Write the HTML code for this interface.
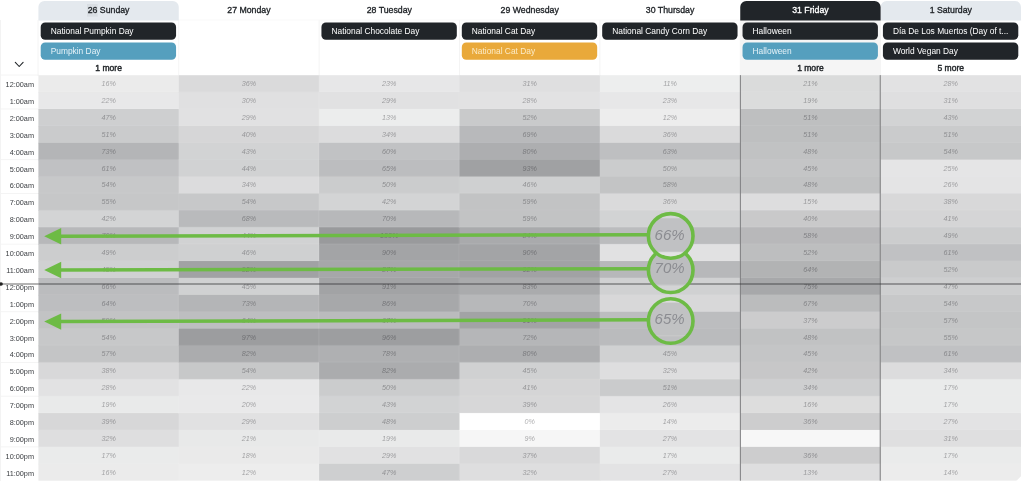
<!DOCTYPE html>
<html><head><meta charset="utf-8"><title>Calendar</title>
<style>
html,body{margin:0;padding:0;background:#fff;}
body{width:1024px;height:484px;overflow:hidden;font-family:"Liberation Sans",sans-serif;}
svg{display:block;position:absolute;left:0;top:0;will-change:transform;}
text{white-space:pre;}
</style></head><body>
<svg width="1024" height="484" viewBox="0 0 1024 484">
<defs><clipPath id="cp1"><circle cx="670.70" cy="270.20" r="22.30"/></clipPath><clipPath id="cp0"><circle cx="670.70" cy="235.90" r="22.30"/></clipPath><clipPath id="cp2"><circle cx="670.70" cy="321.00" r="22.30"/></clipPath></defs>
<g fill="#f3f3f3">
<rect x="0" y="20" width="1" height="461"/>
<rect x="37.6" y="20" width="0.9" height="56"/>
<rect x="0" y="74.6" width="38.4" height="0.9"/>
<rect x="0" y="108.54" width="38.4" height="0.9"/>
<rect x="0" y="159.23" width="38.4" height="0.9"/>
<rect x="0" y="193.02" width="38.4" height="0.9"/>
<rect x="0" y="243.70" width="38.4" height="0.9"/>
<rect x="0" y="311.28" width="38.4" height="0.9"/>
<rect x="0" y="361.96" width="38.4" height="0.9"/>
<rect x="0" y="395.75" width="38.4" height="0.9"/>
<rect x="0" y="446.44" width="38.4" height="0.9"/>
</g>
<g fill="#f3f3f3">
<rect x="178.32" y="20" width="0.9" height="55.2"/>
<rect x="318.69" y="20" width="0.9" height="55.2"/>
<rect x="459.06" y="20" width="0.9" height="55.2"/>
<rect x="599.43" y="20" width="0.9" height="55.2"/>
<rect x="739.80" y="20" width="0.9" height="55.2"/>
<rect x="880.17" y="20" width="0.9" height="55.2"/>
<rect x="38.4" y="19.6" width="983" height="0.8" fill="#f8f8f8"/>
</g>
<rect x="740.25" y="20" width="140.37" height="55.4" fill="#f5f5f5"/>
<path d="M38.40 20.50 L38.40 6.90 A6 6 0 0 1 44.40 0.90 L172.77 0.90 A6 6 0 0 1 178.77 6.90 L178.77 20.50 Z" fill="#e4e9ee"/>
<path d="M880.62 20.50 L880.62 6.90 A6 6 0 0 1 886.62 0.90 L1014.99 0.90 A6 6 0 0 1 1020.99 6.90 L1020.99 20.50 Z" fill="#e4e9ee"/>
<path d="M740.25 20.50 L740.25 6.90 A6 6 0 0 1 746.25 0.90 L874.62 0.90 A6 6 0 0 1 880.62 6.90 L880.62 20.50 Z" fill="#212529"/>
<rect x="87" y="4" width="10.7" height="12.6" fill="#d9dee3"/>
<g font-family="Liberation Sans, sans-serif" font-size="8.75" text-anchor="middle" fill="#212529" stroke="#212529" stroke-width="0.32" stroke-linejoin="round">
<text x="108.59" y="13.1">26 Sunday</text>
<text x="248.96" y="13.1">27 Monday</text>
<text x="389.32" y="13.1">28 Tuesday</text>
<text x="529.70" y="13.1">29 Wednesday</text>
<text x="670.06" y="13.1">30 Thursday</text>
<text x="810.44" y="13.1" fill="#fff" stroke="#fff">31 Friday</text>
<text x="950.80" y="13.1">1 Saturday</text>
</g>
<rect x="40.70" y="22.55" width="135.37" height="17.2" rx="4.5" fill="#212529"/>
<text x="50.70" y="34.05" font-family="Liberation Sans, sans-serif" font-size="8.4" fill="#fff">National Pumpkin Day</text>
<rect x="40.70" y="42.55" width="135.37" height="17.2" rx="4.5" fill="#559fbe"/>
<text x="50.70" y="54.05" font-family="Liberation Sans, sans-serif" font-size="8.4" fill="#e6f2f8">Pumpkin Day</text>
<rect x="321.44" y="22.55" width="135.37" height="17.2" rx="4.5" fill="#212529"/>
<text x="331.44" y="34.05" font-family="Liberation Sans, sans-serif" font-size="8.4" fill="#fff">National Chocolate Day</text>
<rect x="461.81" y="22.55" width="135.37" height="17.2" rx="4.5" fill="#212529"/>
<text x="471.81" y="34.05" font-family="Liberation Sans, sans-serif" font-size="8.4" fill="#fff">National Cat Day</text>
<rect x="461.81" y="42.55" width="135.37" height="17.2" rx="4.5" fill="#e9a93a"/>
<text x="471.81" y="54.05" font-family="Liberation Sans, sans-serif" font-size="8.4" fill="#fcebc6">National Cat Day</text>
<rect x="602.18" y="22.55" width="135.37" height="17.2" rx="4.5" fill="#212529"/>
<text x="612.18" y="34.05" font-family="Liberation Sans, sans-serif" font-size="8.4" fill="#fff">National Candy Corn Day</text>
<rect x="742.55" y="22.55" width="135.37" height="17.2" rx="4.5" fill="#212529"/>
<text x="752.55" y="34.05" font-family="Liberation Sans, sans-serif" font-size="8.4" fill="#fff">Halloween</text>
<rect x="742.55" y="42.55" width="135.37" height="17.2" rx="4.5" fill="#559fbe"/>
<text x="752.55" y="54.05" font-family="Liberation Sans, sans-serif" font-size="8.4" fill="#e6f2f8">Halloween</text>
<rect x="882.92" y="22.55" width="135.37" height="17.2" rx="4.5" fill="#212529"/>
<text x="892.92" y="34.05" font-family="Liberation Sans, sans-serif" font-size="8.4" fill="#fff">D&#237;a De Los Muertos (Day of t...</text>
<rect x="882.92" y="42.55" width="135.37" height="17.2" rx="4.5" fill="#212529"/>
<text x="892.92" y="54.05" font-family="Liberation Sans, sans-serif" font-size="8.4" fill="#fff">World Vegan Day</text>
<text x="108.59" y="70.9" font-family="Liberation Sans, sans-serif" font-size="8.55" text-anchor="middle" fill="#212529" stroke="#212529" stroke-width="0.4" stroke-linejoin="round">1 more</text>
<text x="810.44" y="70.9" font-family="Liberation Sans, sans-serif" font-size="8.55" text-anchor="middle" fill="#212529" stroke="#212529" stroke-width="0.4" stroke-linejoin="round">1 more</text>
<text x="950.80" y="70.9" font-family="Liberation Sans, sans-serif" font-size="8.55" text-anchor="middle" fill="#212529" stroke="#212529" stroke-width="0.4" stroke-linejoin="round">5 more</text>
<path d="M15.3 62.3 L19.2 66.5 L23.1 62.3" fill="none" stroke="#212529" stroke-width="1.1" stroke-linecap="round" stroke-linejoin="round"/>
<rect x="38.40" y="75.20" width="140.97" height="17.50" fill="#ebebeb"/>
<rect x="38.40" y="92.09" width="140.97" height="17.50" fill="#e8e8e9"/>
<rect x="38.40" y="108.99" width="140.97" height="17.50" fill="#cecfd0"/>
<rect x="38.40" y="125.89" width="140.97" height="17.50" fill="#cacbcc"/>
<rect x="38.40" y="142.78" width="140.97" height="17.50" fill="#b4b5b7"/>
<rect x="38.40" y="159.68" width="140.97" height="17.50" fill="#c0c1c3"/>
<rect x="38.40" y="176.57" width="140.97" height="17.50" fill="#c7c8c9"/>
<rect x="38.40" y="193.47" width="140.97" height="17.50" fill="#c6c7c8"/>
<rect x="38.40" y="210.36" width="140.97" height="17.50" fill="#d3d4d5"/>
<rect x="38.40" y="227.25" width="140.97" height="17.50" fill="#b7b8ba"/>
<rect x="38.40" y="244.15" width="140.97" height="17.50" fill="#cccdce"/>
<rect x="38.40" y="261.05" width="140.97" height="17.50" fill="#d0d1d2"/>
<rect x="38.40" y="277.94" width="140.97" height="17.50" fill="#bbbcbe"/>
<rect x="38.40" y="294.83" width="140.97" height="17.50" fill="#bdbec0"/>
<rect x="38.40" y="311.73" width="140.97" height="17.50" fill="#c2c3c4"/>
<rect x="38.40" y="328.62" width="140.97" height="17.50" fill="#c7c8c9"/>
<rect x="38.40" y="345.52" width="140.97" height="17.50" fill="#c4c5c6"/>
<rect x="38.40" y="362.41" width="140.97" height="17.50" fill="#d8d8d9"/>
<rect x="38.40" y="379.31" width="140.97" height="17.50" fill="#e2e2e3"/>
<rect x="38.40" y="396.20" width="140.97" height="17.50" fill="#e9eaea"/>
<rect x="38.40" y="413.10" width="140.97" height="17.50" fill="#d7d7d8"/>
<rect x="38.40" y="430.00" width="140.97" height="17.50" fill="#dededf"/>
<rect x="38.40" y="446.89" width="140.97" height="17.50" fill="#eaebeb"/>
<rect x="38.40" y="463.78" width="140.97" height="16.89" fill="#ebebeb"/>
<rect x="178.77" y="75.20" width="140.97" height="17.50" fill="#dadadb"/>
<rect x="178.77" y="92.09" width="140.97" height="17.50" fill="#e0e0e1"/>
<rect x="178.77" y="108.99" width="140.97" height="17.50" fill="#e1e1e2"/>
<rect x="178.77" y="125.89" width="140.97" height="17.50" fill="#d6d6d7"/>
<rect x="178.77" y="142.78" width="140.97" height="17.50" fill="#d2d3d4"/>
<rect x="178.77" y="159.68" width="140.97" height="17.50" fill="#d1d2d3"/>
<rect x="178.77" y="176.57" width="140.97" height="17.50" fill="#dcdcdd"/>
<rect x="178.77" y="193.47" width="140.97" height="17.50" fill="#c7c8c9"/>
<rect x="178.77" y="210.36" width="140.97" height="17.50" fill="#b9babc"/>
<rect x="178.77" y="227.25" width="140.97" height="17.50" fill="#d1d2d3"/>
<rect x="178.77" y="244.15" width="140.97" height="17.50" fill="#cfd0d1"/>
<rect x="178.77" y="261.05" width="140.97" height="17.50" fill="#a1a2a4"/>
<rect x="178.77" y="277.94" width="140.97" height="17.50" fill="#d0d1d2"/>
<rect x="178.77" y="294.83" width="140.97" height="17.50" fill="#b4b5b7"/>
<rect x="178.77" y="311.73" width="140.97" height="17.50" fill="#bdbec0"/>
<rect x="178.77" y="328.62" width="140.97" height="17.50" fill="#9c9d9f"/>
<rect x="178.77" y="345.52" width="140.97" height="17.50" fill="#abacae"/>
<rect x="178.77" y="362.41" width="140.97" height="17.50" fill="#c7c8c9"/>
<rect x="178.77" y="379.31" width="140.97" height="17.50" fill="#e8e8e9"/>
<rect x="178.77" y="396.20" width="140.97" height="17.50" fill="#e9e9ea"/>
<rect x="178.77" y="413.10" width="140.97" height="17.50" fill="#e1e1e2"/>
<rect x="178.77" y="430.00" width="140.97" height="17.50" fill="#e8e9e9"/>
<rect x="178.77" y="446.89" width="140.97" height="17.50" fill="#eaeaea"/>
<rect x="178.77" y="463.78" width="140.97" height="16.89" fill="#ededed"/>
<rect x="319.14" y="75.20" width="140.97" height="17.50" fill="#e7e7e8"/>
<rect x="319.14" y="92.09" width="140.97" height="17.50" fill="#e1e1e2"/>
<rect x="319.14" y="108.99" width="140.97" height="17.50" fill="#eceded"/>
<rect x="319.14" y="125.89" width="140.97" height="17.50" fill="#dcdcdd"/>
<rect x="319.14" y="142.78" width="140.97" height="17.50" fill="#c1c2c4"/>
<rect x="319.14" y="159.68" width="140.97" height="17.50" fill="#bcbdbf"/>
<rect x="319.14" y="176.57" width="140.97" height="17.50" fill="#cbcccd"/>
<rect x="319.14" y="193.47" width="140.97" height="17.50" fill="#d3d4d5"/>
<rect x="319.14" y="210.36" width="140.97" height="17.50" fill="#b7b8ba"/>
<rect x="319.14" y="227.25" width="140.97" height="17.50" fill="#999a9c"/>
<rect x="319.14" y="244.15" width="140.97" height="17.50" fill="#a3a4a6"/>
<rect x="319.14" y="261.05" width="140.97" height="17.50" fill="#a6a7a9"/>
<rect x="319.14" y="277.94" width="140.97" height="17.50" fill="#a2a3a5"/>
<rect x="319.14" y="294.83" width="140.97" height="17.50" fill="#a7a8aa"/>
<rect x="319.14" y="311.73" width="140.97" height="17.50" fill="#babbbd"/>
<rect x="319.14" y="328.62" width="140.97" height="17.50" fill="#9d9ea0"/>
<rect x="319.14" y="345.52" width="140.97" height="17.50" fill="#afb0b2"/>
<rect x="319.14" y="362.41" width="140.97" height="17.50" fill="#abacae"/>
<rect x="319.14" y="379.31" width="140.97" height="17.50" fill="#cbcccd"/>
<rect x="319.14" y="396.20" width="140.97" height="17.50" fill="#d2d3d4"/>
<rect x="319.14" y="413.10" width="140.97" height="17.50" fill="#cdcecf"/>
<rect x="319.14" y="430.00" width="140.97" height="17.50" fill="#e9eaea"/>
<rect x="319.14" y="446.89" width="140.97" height="17.50" fill="#e1e1e2"/>
<rect x="319.14" y="463.78" width="140.97" height="16.89" fill="#cecfd0"/>
<rect x="459.51" y="75.20" width="140.97" height="17.50" fill="#dfdfe0"/>
<rect x="459.51" y="92.09" width="140.97" height="17.50" fill="#e2e2e3"/>
<rect x="459.51" y="108.99" width="140.97" height="17.50" fill="#c9cacb"/>
<rect x="459.51" y="125.89" width="140.97" height="17.50" fill="#b8b9bb"/>
<rect x="459.51" y="142.78" width="140.97" height="17.50" fill="#adaeb0"/>
<rect x="459.51" y="159.68" width="140.97" height="17.50" fill="#a0a1a3"/>
<rect x="459.51" y="176.57" width="140.97" height="17.50" fill="#cfd0d1"/>
<rect x="459.51" y="193.47" width="140.97" height="17.50" fill="#c2c3c4"/>
<rect x="459.51" y="210.36" width="140.97" height="17.50" fill="#c2c3c4"/>
<rect x="459.51" y="227.25" width="140.97" height="17.50" fill="#a9aaac"/>
<rect x="459.51" y="244.15" width="140.97" height="17.50" fill="#a3a4a6"/>
<rect x="459.51" y="261.05" width="140.97" height="17.50" fill="#a1a2a4"/>
<rect x="459.51" y="277.94" width="140.97" height="17.50" fill="#aaabad"/>
<rect x="459.51" y="294.83" width="140.97" height="17.50" fill="#b7b8ba"/>
<rect x="459.51" y="311.73" width="140.97" height="17.50" fill="#a2a3a5"/>
<rect x="459.51" y="328.62" width="140.97" height="17.50" fill="#b5b6b8"/>
<rect x="459.51" y="345.52" width="140.97" height="17.50" fill="#adaeb0"/>
<rect x="459.51" y="362.41" width="140.97" height="17.50" fill="#d0d1d2"/>
<rect x="459.51" y="379.31" width="140.97" height="17.50" fill="#d5d5d6"/>
<rect x="459.51" y="396.20" width="140.97" height="17.50" fill="#d7d7d8"/>
<rect x="459.51" y="413.10" width="140.97" height="17.50" fill="#ffffff"/>
<rect x="459.51" y="430.00" width="140.97" height="17.50" fill="#f6f6f6"/>
<rect x="459.51" y="446.89" width="140.97" height="17.50" fill="#d9d9da"/>
<rect x="459.51" y="463.78" width="140.97" height="16.89" fill="#dededf"/>
<rect x="599.88" y="75.20" width="140.97" height="17.50" fill="#edeeee"/>
<rect x="599.88" y="92.09" width="140.97" height="17.50" fill="#e7e7e8"/>
<rect x="599.88" y="108.99" width="140.97" height="17.50" fill="#ededed"/>
<rect x="599.88" y="125.89" width="140.97" height="17.50" fill="#dadadb"/>
<rect x="599.88" y="142.78" width="140.97" height="17.50" fill="#bebfc1"/>
<rect x="599.88" y="159.68" width="140.97" height="17.50" fill="#cbcccd"/>
<rect x="599.88" y="176.57" width="140.97" height="17.50" fill="#c3c4c5"/>
<rect x="599.88" y="193.47" width="140.97" height="17.50" fill="#dadadb"/>
<rect x="599.88" y="210.36" width="140.97" height="17.50" fill="#d2d3d4"/>
<rect x="599.88" y="227.25" width="140.97" height="17.50" fill="#bbbcbe"/>
<rect x="599.88" y="244.15" width="140.97" height="17.50" fill="#e1e1e2"/>
<rect x="599.88" y="261.05" width="140.97" height="17.50" fill="#b7b8ba"/>
<rect x="599.88" y="277.94" width="140.97" height="17.50" fill="#d0d1d2"/>
<rect x="599.88" y="294.83" width="140.97" height="17.50" fill="#d8d8d9"/>
<rect x="599.88" y="311.73" width="140.97" height="17.50" fill="#bcbdbf"/>
<rect x="599.88" y="328.62" width="140.97" height="17.50" fill="#babbbd"/>
<rect x="599.88" y="345.52" width="140.97" height="17.50" fill="#d0d1d2"/>
<rect x="599.88" y="362.41" width="140.97" height="17.50" fill="#dededf"/>
<rect x="599.88" y="379.31" width="140.97" height="17.50" fill="#cacbcc"/>
<rect x="599.88" y="396.20" width="140.97" height="17.50" fill="#e4e4e5"/>
<rect x="599.88" y="413.10" width="140.97" height="17.50" fill="#ececec"/>
<rect x="599.88" y="430.00" width="140.97" height="17.50" fill="#e3e3e4"/>
<rect x="599.88" y="446.89" width="140.97" height="17.50" fill="#eaebeb"/>
<rect x="599.88" y="463.78" width="140.97" height="16.89" fill="#e3e3e4"/>
<rect x="740.25" y="75.20" width="140.97" height="17.50" fill="#dadbdb"/>
<rect x="740.25" y="92.09" width="140.97" height="17.50" fill="#dbdcdc"/>
<rect x="740.25" y="108.99" width="140.97" height="17.50" fill="#bebfc0"/>
<rect x="740.25" y="125.89" width="140.97" height="17.50" fill="#bebfc0"/>
<rect x="740.25" y="142.78" width="140.97" height="17.50" fill="#c1c2c3"/>
<rect x="740.25" y="159.68" width="140.97" height="17.50" fill="#c4c5c6"/>
<rect x="740.25" y="176.57" width="140.97" height="17.50" fill="#c1c2c3"/>
<rect x="740.25" y="193.47" width="140.97" height="17.50" fill="#ddddde"/>
<rect x="740.25" y="210.36" width="140.97" height="17.50" fill="#c9c9ca"/>
<rect x="740.25" y="227.25" width="140.97" height="17.50" fill="#b8b8ba"/>
<rect x="740.25" y="244.15" width="140.97" height="17.50" fill="#bdbebf"/>
<rect x="740.25" y="261.05" width="140.97" height="17.50" fill="#b2b3b4"/>
<rect x="740.25" y="277.94" width="140.97" height="17.50" fill="#a7a8aa"/>
<rect x="740.25" y="294.83" width="140.97" height="17.50" fill="#bbbcbd"/>
<rect x="740.25" y="311.73" width="140.97" height="17.50" fill="#cccccd"/>
<rect x="740.25" y="328.62" width="140.97" height="17.50" fill="#c1c2c3"/>
<rect x="740.25" y="345.52" width="140.97" height="17.50" fill="#c4c5c6"/>
<rect x="740.25" y="362.41" width="140.97" height="17.50" fill="#c7c7c8"/>
<rect x="740.25" y="379.31" width="140.97" height="17.50" fill="#cecfd0"/>
<rect x="740.25" y="396.20" width="140.97" height="17.50" fill="#dddddd"/>
<rect x="740.25" y="413.10" width="140.97" height="17.50" fill="#cdcdce"/>
<rect x="740.25" y="430.00" width="140.97" height="17.50" fill="#f7f7f7"/>
<rect x="740.25" y="446.89" width="140.97" height="17.50" fill="#cdcdce"/>
<rect x="740.25" y="463.78" width="140.97" height="16.89" fill="#dededf"/>
<rect x="880.62" y="75.20" width="140.37" height="17.50" fill="#e2e2e3"/>
<rect x="880.62" y="92.09" width="140.37" height="17.50" fill="#dfdfe0"/>
<rect x="880.62" y="108.99" width="140.37" height="17.50" fill="#d2d3d4"/>
<rect x="880.62" y="125.89" width="140.37" height="17.50" fill="#cacbcc"/>
<rect x="880.62" y="142.78" width="140.37" height="17.50" fill="#c7c8c9"/>
<rect x="880.62" y="159.68" width="140.37" height="17.50" fill="#e5e5e6"/>
<rect x="880.62" y="176.57" width="140.37" height="17.50" fill="#e4e4e5"/>
<rect x="880.62" y="193.47" width="140.37" height="17.50" fill="#d8d8d9"/>
<rect x="880.62" y="210.36" width="140.37" height="17.50" fill="#d5d5d6"/>
<rect x="880.62" y="227.25" width="140.37" height="17.50" fill="#cccdce"/>
<rect x="880.62" y="244.15" width="140.37" height="17.50" fill="#c0c1c3"/>
<rect x="880.62" y="261.05" width="140.37" height="17.50" fill="#c9cacb"/>
<rect x="880.62" y="277.94" width="140.37" height="17.50" fill="#cecfd0"/>
<rect x="880.62" y="294.83" width="140.37" height="17.50" fill="#c7c8c9"/>
<rect x="880.62" y="311.73" width="140.37" height="17.50" fill="#c4c5c6"/>
<rect x="880.62" y="328.62" width="140.37" height="17.50" fill="#c6c7c8"/>
<rect x="880.62" y="345.52" width="140.37" height="17.50" fill="#c0c1c3"/>
<rect x="880.62" y="362.41" width="140.37" height="17.50" fill="#dcdcdd"/>
<rect x="880.62" y="379.31" width="140.37" height="17.50" fill="#eaebeb"/>
<rect x="880.62" y="396.20" width="140.37" height="17.50" fill="#eaebeb"/>
<rect x="880.62" y="413.10" width="140.37" height="17.50" fill="#e3e3e4"/>
<rect x="880.62" y="430.00" width="140.37" height="17.50" fill="#dfdfe0"/>
<rect x="880.62" y="446.89" width="140.37" height="17.50" fill="#eaebeb"/>
<rect x="880.62" y="463.78" width="140.37" height="16.89" fill="#ececec"/>
<g fill="rgba(255,255,255,0.08)">
<rect x="38.40" y="91.30" width="982.59" height="0.8"/>
<rect x="38.40" y="108.19" width="982.59" height="0.8"/>
<rect x="38.40" y="125.09" width="982.59" height="0.8"/>
<rect x="38.40" y="141.98" width="982.59" height="0.8"/>
<rect x="38.40" y="158.88" width="982.59" height="0.8"/>
<rect x="38.40" y="175.77" width="982.59" height="0.8"/>
<rect x="38.40" y="192.66" width="982.59" height="0.8"/>
<rect x="38.40" y="209.56" width="982.59" height="0.8"/>
<rect x="38.40" y="226.45" width="982.59" height="0.8"/>
<rect x="38.40" y="243.35" width="982.59" height="0.8"/>
<rect x="38.40" y="260.25" width="982.59" height="0.8"/>
<rect x="38.40" y="277.14" width="982.59" height="0.8"/>
<rect x="38.40" y="294.03" width="982.59" height="0.8"/>
<rect x="38.40" y="310.93" width="982.59" height="0.8"/>
<rect x="38.40" y="327.82" width="982.59" height="0.8"/>
<rect x="38.40" y="344.72" width="982.59" height="0.8"/>
<rect x="38.40" y="361.61" width="982.59" height="0.8"/>
<rect x="38.40" y="378.51" width="982.59" height="0.8"/>
<rect x="38.40" y="395.40" width="982.59" height="0.8"/>
<rect x="38.40" y="412.30" width="982.59" height="0.8"/>
<rect x="38.40" y="429.19" width="982.59" height="0.8"/>
<rect x="38.40" y="446.09" width="982.59" height="0.8"/>
<rect x="38.40" y="462.98" width="982.59" height="0.8"/>
<rect x="177.77" y="75.20" width="0.9" height="405.48"/>
<rect x="318.14" y="75.20" width="0.9" height="405.48"/>
<rect x="458.51" y="75.20" width="0.9" height="405.48"/>
<rect x="598.88" y="75.20" width="0.9" height="405.48"/>
<rect x="739.25" y="75.20" width="0.9" height="405.48"/>
<rect x="879.62" y="75.20" width="0.9" height="405.48"/>
</g>
<g font-family="Liberation Sans, sans-serif" font-size="7.2" font-style="italic" text-anchor="middle" fill="rgba(30,30,36,0.37)">
<text x="108.59" y="86.10">16%</text>
<text x="108.59" y="103.00">22%</text>
<text x="108.59" y="119.89">47%</text>
<text x="108.59" y="136.78">51%</text>
<text x="108.59" y="153.68">73%</text>
<text x="108.59" y="170.58">61%</text>
<text x="108.59" y="187.47">54%</text>
<text x="108.59" y="204.37">55%</text>
<text x="108.59" y="221.26">42%</text>
<text x="108.59" y="238.16">70%</text>
<text x="108.59" y="255.05">49%</text>
<text x="108.59" y="271.94">45%</text>
<text x="108.59" y="288.84">66%</text>
<text x="108.59" y="305.73">64%</text>
<text x="108.59" y="322.63">59%</text>
<text x="108.59" y="339.52">54%</text>
<text x="108.59" y="356.42">57%</text>
<text x="108.59" y="373.31">38%</text>
<text x="108.59" y="390.21">28%</text>
<text x="108.59" y="407.10">19%</text>
<text x="108.59" y="424.00">39%</text>
<text x="108.59" y="440.89">32%</text>
<text x="108.59" y="457.79">17%</text>
<text x="108.59" y="474.68">16%</text>
<text x="248.96" y="86.10">36%</text>
<text x="248.96" y="103.00">30%</text>
<text x="248.96" y="119.89">29%</text>
<text x="248.96" y="136.78">40%</text>
<text x="248.96" y="153.68">43%</text>
<text x="248.96" y="170.58">44%</text>
<text x="248.96" y="187.47">34%</text>
<text x="248.96" y="204.37">54%</text>
<text x="248.96" y="221.26">68%</text>
<text x="248.96" y="238.16">44%</text>
<text x="248.96" y="255.05">46%</text>
<text x="248.96" y="271.94">92%</text>
<text x="248.96" y="288.84">45%</text>
<text x="248.96" y="305.73">73%</text>
<text x="248.96" y="322.63">64%</text>
<text x="248.96" y="339.52">97%</text>
<text x="248.96" y="356.42">82%</text>
<text x="248.96" y="373.31">54%</text>
<text x="248.96" y="390.21">22%</text>
<text x="248.96" y="407.10">20%</text>
<text x="248.96" y="424.00">29%</text>
<text x="248.96" y="440.89">21%</text>
<text x="248.96" y="457.79">18%</text>
<text x="248.96" y="474.68">12%</text>
<text x="389.32" y="86.10">23%</text>
<text x="389.32" y="103.00">29%</text>
<text x="389.32" y="119.89">13%</text>
<text x="389.32" y="136.78">34%</text>
<text x="389.32" y="153.68">60%</text>
<text x="389.32" y="170.58">65%</text>
<text x="389.32" y="187.47">50%</text>
<text x="389.32" y="204.37">42%</text>
<text x="389.32" y="221.26">70%</text>
<text x="389.32" y="238.16">100%</text>
<text x="389.32" y="255.05">90%</text>
<text x="389.32" y="271.94">87%</text>
<text x="389.32" y="288.84">91%</text>
<text x="389.32" y="305.73">86%</text>
<text x="389.32" y="322.63">67%</text>
<text x="389.32" y="339.52">96%</text>
<text x="389.32" y="356.42">78%</text>
<text x="389.32" y="373.31">82%</text>
<text x="389.32" y="390.21">50%</text>
<text x="389.32" y="407.10">43%</text>
<text x="389.32" y="424.00">48%</text>
<text x="389.32" y="440.89">19%</text>
<text x="389.32" y="457.79">29%</text>
<text x="389.32" y="474.68">47%</text>
<text x="529.70" y="86.10">31%</text>
<text x="529.70" y="103.00">28%</text>
<text x="529.70" y="119.89">52%</text>
<text x="529.70" y="136.78">69%</text>
<text x="529.70" y="153.68">80%</text>
<text x="529.70" y="170.58">93%</text>
<text x="529.70" y="187.47">46%</text>
<text x="529.70" y="204.37">59%</text>
<text x="529.70" y="221.26">59%</text>
<text x="529.70" y="238.16">84%</text>
<text x="529.70" y="255.05">90%</text>
<text x="529.70" y="271.94">92%</text>
<text x="529.70" y="288.84">83%</text>
<text x="529.70" y="305.73">70%</text>
<text x="529.70" y="322.63">91%</text>
<text x="529.70" y="339.52">72%</text>
<text x="529.70" y="356.42">80%</text>
<text x="529.70" y="373.31">45%</text>
<text x="529.70" y="390.21">41%</text>
<text x="529.70" y="407.10">39%</text>
<text x="529.70" y="424.00">0%</text>
<text x="529.70" y="440.89">9%</text>
<text x="529.70" y="457.79">37%</text>
<text x="529.70" y="474.68">32%</text>
<text x="670.06" y="86.10">11%</text>
<text x="670.06" y="103.00">23%</text>
<text x="670.06" y="119.89">12%</text>
<text x="670.06" y="136.78">36%</text>
<text x="670.06" y="153.68">63%</text>
<text x="670.06" y="170.58">50%</text>
<text x="670.06" y="187.47">58%</text>
<text x="670.06" y="204.37">36%</text>
<text x="670.06" y="356.42">45%</text>
<text x="670.06" y="373.31">32%</text>
<text x="670.06" y="390.21">51%</text>
<text x="670.06" y="407.10">26%</text>
<text x="670.06" y="424.00">14%</text>
<text x="670.06" y="440.89">27%</text>
<text x="670.06" y="457.79">17%</text>
<text x="670.06" y="474.68">27%</text>
<text x="810.44" y="86.10">21%</text>
<text x="810.44" y="103.00">19%</text>
<text x="810.44" y="119.89">51%</text>
<text x="810.44" y="136.78">51%</text>
<text x="810.44" y="153.68">48%</text>
<text x="810.44" y="170.58">45%</text>
<text x="810.44" y="187.47">48%</text>
<text x="810.44" y="204.37">15%</text>
<text x="810.44" y="221.26">40%</text>
<text x="810.44" y="238.16">58%</text>
<text x="810.44" y="255.05">52%</text>
<text x="810.44" y="271.94">64%</text>
<text x="810.44" y="288.84">75%</text>
<text x="810.44" y="305.73">67%</text>
<text x="810.44" y="322.63">37%</text>
<text x="810.44" y="339.52">48%</text>
<text x="810.44" y="356.42">45%</text>
<text x="810.44" y="373.31">42%</text>
<text x="810.44" y="390.21">34%</text>
<text x="810.44" y="407.10">16%</text>
<text x="810.44" y="424.00">36%</text>
<text x="810.44" y="457.79">36%</text>
<text x="810.44" y="474.68">13%</text>
<text x="950.80" y="86.10">28%</text>
<text x="950.80" y="103.00">31%</text>
<text x="950.80" y="119.89">43%</text>
<text x="950.80" y="136.78">51%</text>
<text x="950.80" y="153.68">54%</text>
<text x="950.80" y="170.58">25%</text>
<text x="950.80" y="187.47">26%</text>
<text x="950.80" y="204.37">38%</text>
<text x="950.80" y="221.26">41%</text>
<text x="950.80" y="238.16">49%</text>
<text x="950.80" y="255.05">61%</text>
<text x="950.80" y="271.94">52%</text>
<text x="950.80" y="288.84">47%</text>
<text x="950.80" y="305.73">54%</text>
<text x="950.80" y="322.63">57%</text>
<text x="950.80" y="339.52">55%</text>
<text x="950.80" y="356.42">61%</text>
<text x="950.80" y="373.31">34%</text>
<text x="950.80" y="390.21">17%</text>
<text x="950.80" y="407.10">17%</text>
<text x="950.80" y="424.00">27%</text>
<text x="950.80" y="440.89">31%</text>
<text x="950.80" y="457.79">17%</text>
<text x="950.80" y="474.68">14%</text>
</g>
<rect x="739.85" y="75.1" width="1" height="405.58" fill="#7d7d7f"/>
<rect x="879.72" y="75.1" width="1" height="405.58" fill="#7d7d7f"/>
<path d="M1021.49 475.68 L1021.49 481.18 L1015.99 481.18 Z" fill="#fff"/>
<g font-family="Liberation Sans, sans-serif" font-size="7.3" text-anchor="end" fill="#3a3d41">
<text x="34" y="87.10">12:00am</text>
<text x="34" y="104.00">1:00am</text>
<text x="34" y="120.89">2:00am</text>
<text x="34" y="137.78">3:00am</text>
<text x="34" y="154.68">4:00am</text>
<text x="34" y="171.58">5:00am</text>
<text x="34" y="188.47">6:00am</text>
<text x="34" y="205.37">7:00am</text>
<text x="34" y="222.26">8:00am</text>
<text x="34" y="239.16">9:00am</text>
<text x="34" y="256.05">10:00am</text>
<text x="34" y="272.94">11:00am</text>
<text x="34" y="289.84">12:00pm</text>
<text x="34" y="306.73">1:00pm</text>
<text x="34" y="323.63">2:00pm</text>
<text x="34" y="340.52">3:00pm</text>
<text x="34" y="357.42">4:00pm</text>
<text x="34" y="374.31">5:00pm</text>
<text x="34" y="391.21">6:00pm</text>
<text x="34" y="408.10">7:00pm</text>
<text x="34" y="425.00">8:00pm</text>
<text x="34" y="441.89">9:00pm</text>
<text x="34" y="458.79">10:00pm</text>
<text x="34" y="475.68">11:00pm</text>
</g>
<rect x="0" y="283.35" width="38.4" height="1.3" fill="#8c8c8c"/>
<rect x="38.4" y="283.35" width="982.59" height="1.3" fill="rgba(50,50,54,0.6)"/>
<circle cx="1.1" cy="284" r="1.75" fill="#222"/>
<line x1="59" y1="236.20" x2="648.40" y2="234.70" stroke="#6dbb45" stroke-width="3.5"/>
<path d="M44.2 236.20 L61.2 228.00 L61.2 244.40 Z" fill="#6dbb45"/>
<line x1="59" y1="270.00" x2="648.40" y2="268.70" stroke="#6dbb45" stroke-width="3.5"/>
<path d="M44.2 270.00 L61.2 261.80 L61.2 278.20 Z" fill="#6dbb45"/>
<line x1="59" y1="321.60" x2="648.40" y2="319.70" stroke="#6dbb45" stroke-width="3.5"/>
<path d="M44.2 321.60 L61.2 313.40 L61.2 329.80 Z" fill="#6dbb45"/>
<g clip-path="url(#cp1)">
<rect x="647.40" y="217.81" width="46.60" height="34.39" fill="#e3e3e4"/>
<rect x="647.40" y="251.60" width="46.60" height="34.39" fill="#bcbdbf"/>
<rect x="647.40" y="285.39" width="46.60" height="34.39" fill="#d3d4d5"/>
<rect x="647.40" y="284.19" width="46.60" height="1.2" fill="rgba(255,255,255,0.12)"/>
</g>
<circle cx="670.70" cy="270.20" r="22.30" fill="none" stroke="#6dbb45" stroke-width="3.6"/>
<text x="654.6" y="273.10" font-family="Liberation Sans, sans-serif" font-style="italic" font-size="14" textLength="30" lengthAdjust="spacingAndGlyphs" fill="#8b8c91">70%</text>
<g clip-path="url(#cp0)">
<rect x="647.40" y="184.52" width="46.60" height="34.39" fill="#d5d6d7"/>
<rect x="647.40" y="218.31" width="46.60" height="34.39" fill="#c0c1c3"/>
<rect x="647.40" y="252.10" width="46.60" height="34.39" fill="#e3e3e4"/>
<rect x="647.40" y="250.90" width="46.60" height="1.2" fill="rgba(255,255,255,0.12)"/>
</g>
<circle cx="670.70" cy="235.90" r="22.30" fill="none" stroke="#6dbb45" stroke-width="3.6"/>
<text x="654.6" y="239.80" font-family="Liberation Sans, sans-serif" font-style="italic" font-size="14" textLength="30" lengthAdjust="spacingAndGlyphs" fill="#8b8c91">66%</text>
<g clip-path="url(#cp2)">
<rect x="647.40" y="268.81" width="46.60" height="34.39" fill="#dbdbdc"/>
<rect x="647.40" y="302.61" width="46.60" height="34.39" fill="#c1c2c3"/>
<rect x="647.40" y="336.39" width="46.60" height="34.39" fill="#bfc0c2"/>
<rect x="647.40" y="335.19" width="46.60" height="1.2" fill="rgba(255,255,255,0.12)"/>
</g>
<circle cx="670.70" cy="321.00" r="22.30" fill="none" stroke="#6dbb45" stroke-width="3.6"/>
<text x="654.6" y="324.10" font-family="Liberation Sans, sans-serif" font-style="italic" font-size="14" textLength="30" lengthAdjust="spacingAndGlyphs" fill="#8b8c91">65%</text>
</svg>
</body></html>
